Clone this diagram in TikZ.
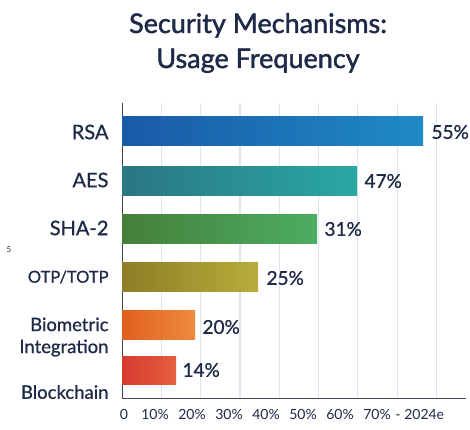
\documentclass[tikz,border=0pt]{standalone}
\usepackage{fontspec}
\setmainfont{Lato}
\setsansfont{Lato}
\newfontfamily\semibf[FakeBold=1.6]{Lato}
\newfontfamily\medbf[FakeBold=0.8]{Lato}
\usepackage{xcolor}
\usepackage{tikz}
\usetikzlibrary{positioning, calc}
\definecolor{titlenavy}{HTML}{1E2A47}
\definecolor{gridblue}{HTML}{DCE5EE}
\definecolor{axisgray}{HTML}{3E4656}
\definecolor{rsaleft}{HTML}{1A5AA6}
\definecolor{rsaright}{HTML}{1E8AC6}
\definecolor{aesleft}{HTML}{2A7682}
\definecolor{aesright}{HTML}{2AA8A6}
\definecolor{shaleft}{HTML}{457F3A}
\definecolor{sharight}{HTML}{4CAD62}
\definecolor{otpleft}{HTML}{8F7E26}
\definecolor{otpright}{HTML}{B8AC3A}
\definecolor{bioleft}{HTML}{E0601E}
\definecolor{bioright}{HTML}{EE8A3E}
\definecolor{blockleft}{HTML}{D73A2E}
\definecolor{blockright}{HTML}{E4603E}

\begin{document}
\begin{tikzpicture}[x=1pt, y=-1pt, font=\sffamily,
    catlabel/.style={anchor=east, text=titlenavy, font=\medbf\fontsize{20}{22}\selectfont},
    pctlabel/.style={anchor=west, text=titlenavy, font=\medbf\fontsize{19}{21}\selectfont},
    ticklabel/.style={text=titlenavy, font=\fontsize{14}{16}\selectfont}]
    \useasboundingbox[fill=white] (0, 0) rectangle (470, 429);

    % ── TITLE ─────────────────────────────────────────────────────────
    \node[font=\semibf\fontsize{27}{35}\selectfont, text=titlenavy, align=center] (title) at (258, 43)
        {Security Mechanisms:\\Usage Frequency};

    % ── GRID AND AXES ─────────────────────────────────────────────────
    \foreach \k in {1,...,8}{
        \draw[gridblue, line width=1.2pt] ({122 + 39.3*\k}, 103) -- ({122 + 39.3*\k}, 398);
    }
    \coordinate (origin) at (122, 398);
    \coordinate (ytop) at (122, 103);
    \coordinate (xend) at (466, 398);
    \draw[axisgray, line width=1pt] (ytop) -- (origin) -- (xend);

    % ── BARS ──────────────────────────────────────────────────────────
    \shade[left color=rsaleft, right color=rsaright] (122, 116) rectangle (423, 145);
    \shade[left color=aesleft, right color=aesright] (122, 166) rectangle (357, 195);
    \shade[left color=shaleft, right color=sharight] (122, 214) rectangle (317, 243);
    \shade[left color=otpleft, right color=otpright] (122, 262) rectangle (258, 291);
    \shade[left color=bioleft, right color=bioright] (122, 310) rectangle (195, 339);
    \shade[left color=blockleft, right color=blockright] (122, 356) rectangle (176, 384);

    % ── CATEGORY LABELS ───────────────────────────────────────────────
    \node[catlabel] (rsa) at (112, 132) {RSA};
    \node[catlabel] (aes) at (112, 180) {AES};
    \node[catlabel] (sha) at (112, 228) {SHA-2};
    \node[catlabel, font=\medbf\fontsize{16.5}{18}\selectfont] (otp) at (112, 277) {OTP/TOTP};
    \node[catlabel, align=right, font=\medbf\fontsize{18.5}{22}\selectfont] (bio) at (112, 337) {Biometric\\Integration};
    \node[catlabel, font=\medbf\fontsize{18.5}{20}\selectfont] (block) at (112, 392) {Blockchain};
    \node[text=titlenavy, font=\fontsize{8}{9}\selectfont] (stray) at (9, 250) {5};

    % ── VALUE LABELS ──────────────────────────────────────────────────
    \node[pctlabel] (rsav) at (428, 132) {55\%};
    \node[pctlabel] (aesv) at (361, 181) {47\%};
    \node[pctlabel] (shav) at (321, 229) {31\%};
    \node[pctlabel] (otpv) at (263, 278) {25\%};
    \node[pctlabel] (biov) at (199, 327) {20\%};
    \node[pctlabel] (blockv) at (179, 370) {14\%};

    % ── X TICK LABELS ─────────────────────────────────────────────────
    \node[ticklabel] (t0) at (124, 414) {0};
    \foreach \v [count=\i] in {10,20,...,70}{
        \node[ticklabel] (t\i) at ({118 + 37*\i}, 414) {\v\%};
    }
    \node[ticklabel, anchor=west, inner sep=1pt] (tend) at (t7.east) {- 2024e};
\end{tikzpicture}
\end{document}
